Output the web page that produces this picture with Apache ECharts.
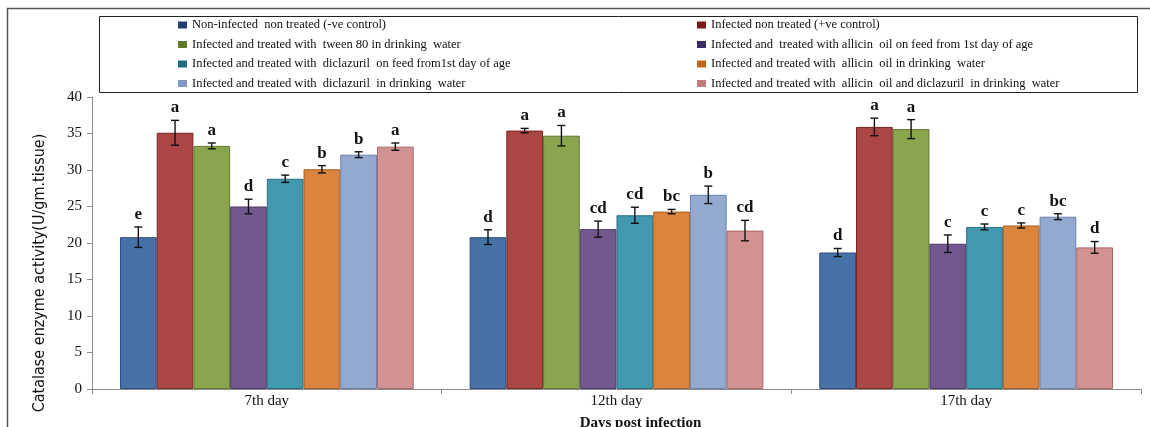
<!DOCTYPE html>
<html>
<head>
<meta charset="utf-8">
<script src="https://cdn.jsdelivr.net/npm/echarts@6/dist/echarts.min.js"></script>
<style>
  html, body { margin: 0; padding: 0; background: #fff; }
  #main { width: 1150px; height: 427px; }
</style>
</head>
<body>
<div id="main"></div>
<script>
// groups on x axis
var days = ["7th day", "12th day", "17th day"];
var treatments = [
  "Non-infected  non treated (-ve control)",
  "Infected non treated (+ve control)",
  "Infected and treated with  tween 80 in drinking  water",
  "Infected and  treated with allicin  oil on feed from 1st day of age",
  "Infected and treated with  diclazuril  on feed from1st day of age",
  "Infected and treated with  allicin  oil in drinking  water",
  "Infected and treated with  diclazuril  in drinking  water",
  "Infected and treated with  allicin  oil and diclazuril  in drinking  water"
];
var colors = ["#4672a8", "#aa4643", "#89a54e", "#71588f", "#4198af", "#db843d", "#93a9cf", "#d19392"];
var edges = ["#2c4f7c", "#7a2523", "#62782f", "#4e3a68", "#2b6f80", "#a9601f", "#6a82ad", "#a86a69"];
var legendColors = ["#1f3f6e", "#7a1a1a", "#5c7a28", "#3c2d66", "#206b80", "#c0661c", "#8299c4", "#c07d7c"];

// mean values per day (one value per treatment)
var mean7 = [20.8, 35.1, 33.3, 25.0, 28.8, 30.1, 32.1, 33.2];
var mean12 = [20.8, 35.4, 34.7, 21.9, 23.8, 24.3, 26.6, 21.7];
var mean17 = [18.7, 35.9, 35.6, 19.9, 22.2, 22.4, 23.6, 19.4];
// error bar half length
var se7 = [1.4, 1.7, 0.4, 1.0, 0.5, 0.5, 0.4, 0.5];
var se12 = [1.0, 0.3, 1.4, 1.1, 1.1, 0.3, 1.2, 1.4];
var se17 = [0.55, 1.2, 1.3, 1.2, 0.4, 0.35, 0.4, 0.8];
// significance letters
var sig7 = ["e", "a", "a", "d", "c", "b", "b", "a"];
var sig12 = ["d", "a", "a", "cd", "cd", "bc", "b", "cd"];
var sig17 = ["d", "a", "a", "c", "c", "c", "bc", "d"];

var yTicks = [0, 40, 5]; // min, max, step

var means = [mean7, mean12, mean17];
var ses = [se7, se12, se17];
var sigs = [sig7, sig12, sig17];
var gapPct = 16;

var serif = "'Liberation Serif', 'DejaVu Serif', serif";

var series = [];
var errData = [];
for (var i = 0; i < treatments.length; i++) {
  var vals = [];
  for (var d = 0; d < days.length; d++) {
    vals.push(means[d][i]);
    errData.push([d, i, means[d][i], ses[d][i], sigs[d][i]]);
  }
  series.push({
    name: treatments[i],
    type: "bar",
    data: vals,
    barGap: "0%",
    barCategoryGap: gapPct + "%",
    itemStyle: {
      color: colors[i],
      borderColor: edges[i],
      borderWidth: 1
    },
    emphasis: { disabled: true }
  });
}

series.push({
  type: "custom",
  data: errData,
  z: 10,
  silent: true,
  renderItem: function (params, api) {
    var cat = api.value(0), idx = api.value(1);
    var m = api.value(2), e = api.value(3);
    var band = api.size([1, 0])[0];
    var groupW = band * (1 - gapPct / 100);
    var c = api.coord([cat, m]);
    var x = c[0] - groupW / 2 + (idx + 0.5) * groupW / treatments.length;
    var top = api.coord([cat, m + e])[1];
    var bot = api.coord([cat, m - e])[1];
    var cap = 4;
    var st = { stroke: "#111", lineWidth: 1.4 };
    return {
      type: "group",
      children: [
        { type: "line", shape: { x1: x, y1: top, x2: x, y2: bot }, style: st },
        { type: "line", shape: { x1: x - cap, y1: top, x2: x + cap, y2: top }, style: st },
        { type: "line", shape: { x1: x - cap, y1: bot, x2: x + cap, y2: bot }, style: st },
        {
          type: "text",
          x: x,
          y: top - 4,
          style: {
            text: errData[params.dataIndex][4],
            align: "center",
            verticalAlign: "bottom",
            font: "bold 17px " + serif,
            fill: "#111"
          }
        }
      ]
    };
  }
});

function legendItems(start) {
  var out = [];
  for (var k = start; k < treatments.length; k += 2) {
    out.push({ name: treatments[k], itemStyle: { color: legendColors[k], borderWidth: 0 } });
  }
  return out;
}
var legendBase = {
  orient: "vertical",
  top: 18,
  padding: 0,
  itemGap: 5.5,
  itemWidth: 9,
  itemHeight: 7,
  icon: "rect",
  selectedMode: false,
  textStyle: { fontFamily: serif, fontSize: 12.5, color: "#111", lineHeight: 14 }
};

var chart = echarts.init(document.getElementById("main"));
chart.setOption({
  animation: false,
  color: colors,
  grid: { left: 92, right: 9, top: 97, bottom: 38, containLabel: false, outerBoundsMode: "none" },
  legend: [
    Object.assign({ left: 178, data: legendItems(0) }, legendBase),
    Object.assign({ left: 697, data: legendItems(1) }, legendBase)
  ],
  xAxis: {
    type: "category",
    data: days,
    name: "Days post infection",
    nameLocation: "middle",
    nameGap: 27,
    nameTextStyle: {
      fontFamily: serif, fontSize: 15, fontWeight: "bold", color: "#111",
      padding: [0, 0, 0, 48]
    },
    axisLine: { lineStyle: { color: "#8c8c8c", width: 1 } },
    axisTick: { show: true, length: 5, lineStyle: { color: "#8c8c8c" } },
    axisLabel: { fontFamily: serif, fontSize: 15, color: "#111", margin: 5 }
  },
  yAxis: {
    type: "value",
    min: yTicks[0],
    max: yTicks[1],
    interval: yTicks[2],
    name: "Catalase enzyme activity(U/gm.tissue)",
    nameLocation: "middle",
    nameGap: 44,
    nameTextStyle: {
      fontFamily: "'Liberation Sans Narrow', 'DejaVu Sans Condensed', sans-serif",
      fontSize: 16, color: "#111",
      padding: [0, 60, 0, 0]
    },
    axisLine: { show: true, lineStyle: { color: "#8c8c8c", width: 1 } },
    axisTick: { show: true, length: 5, lineStyle: { color: "#8c8c8c" } },
    splitLine: { show: false },
    axisLabel: { fontFamily: serif, fontSize: 15, color: "#111", margin: 10 }
  },
  graphic: [
    { type: "polyline", silent: true, shape: { points: [[7.5, 427], [7.5, 8.5], [1150, 8.5]] },
      style: { stroke: "#555", lineWidth: 1.5, fill: null } },
    { type: "rect", silent: true, shape: { x: 99.5, y: 16.5, width: 1038, height: 76 },
      style: { stroke: "#222", lineWidth: 1, fill: null } }
  ],
  series: series
});
</script>
</body>
</html>
